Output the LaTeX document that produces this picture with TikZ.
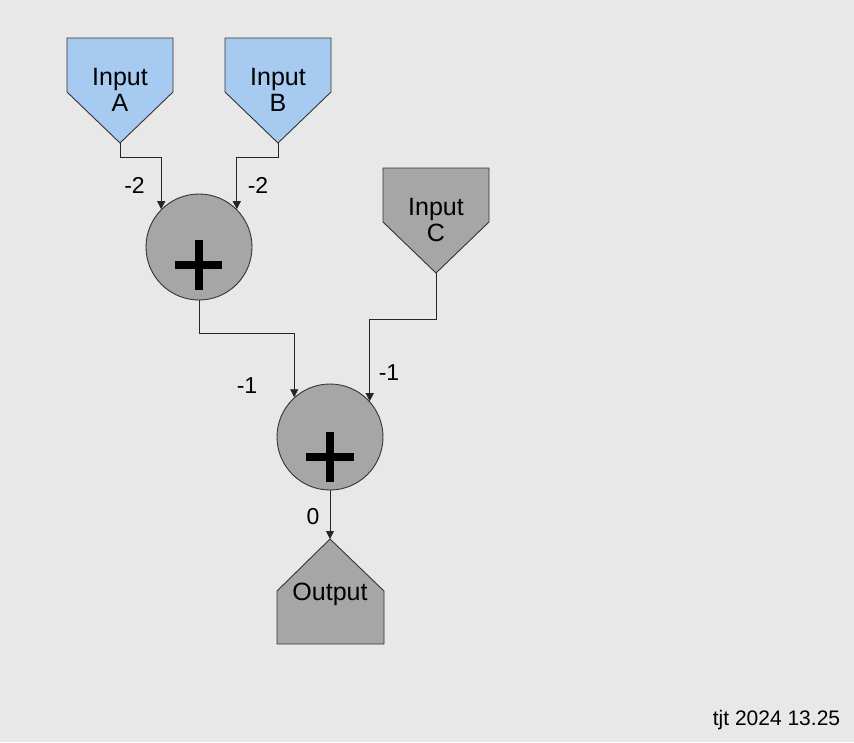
\documentclass[tikz,border=0pt]{standalone}
\usepackage{fontspec}
\setmainfont{Liberation Sans}
\usetikzlibrary{arrows.meta,calc}
\definecolor{bg}{HTML}{E8E8E8}
\definecolor{inblue}{HTML}{A6CAF0}
\definecolor{opgray}{HTML}{A6A6A6}
\begin{document}
\begin{tikzpicture}[x=1pt,y=-1pt,
  wire/.style={line width=0.9pt,draw=black!85},
  arr/.style={wire,-{Triangle[length=8pt,width=8pt]}},
  inbox/.style={draw=black!80,line width=0.9pt,fill=inblue},
  graybox/.style={draw=black!80,line width=0.9pt,fill=opgray},
  sumnode/.style={circle,draw=black!80,line width=0.9pt,fill=opgray,minimum size=106pt,inner sep=0pt},
  plusbar/.style={line width=7.5pt,draw=black},
  nodetext/.style={font=\fontsize{25}{26}\selectfont,align=center,inner sep=0pt},
  wlabel/.style={font=\fontsize{23}{24}\selectfont,inner sep=0pt},
  foot/.style={font=\fontsize{21}{22}\selectfont,inner sep=0pt,anchor=base}]
\fill[bg] (0,0) rectangle (854,742);
\useasboundingbox (0,0) rectangle (854,742);
% Input A
\path[inbox] (67,38) -- (173,38) -- (173,92) -- (120,143) -- (67,92) -- cycle;
\coordinate (Atip) at (120,143);
\node[nodetext] (Atext) at (120,90) {Input\\A};
% Input B
\path[inbox] (225,38) -- (331,38) -- (331,92) -- (278,143) -- (225,92) -- cycle;
\coordinate (Btip) at (278,143);
\node[nodetext] (Btext) at (278,90) {Input\\B};
% Input C
\path[graybox] (383,168) -- (489,168) -- (489,222) -- (436,273) -- (383,222) -- cycle;
\coordinate (Ctip) at (436,273);
\node[nodetext] (Ctext) at (436,220) {Input\\C};
% Output
\path[graybox] (330,539) -- (384,591) -- (384,644) -- (277,644) -- (277,591) -- cycle;
\coordinate (Otip) at (330,539);
\node[nodetext,anchor=base] (Otext) at (330,600) {Output};
% Sum nodes
\node[sumnode] (S1) at (199,247) {};
\node[sumnode] (S2) at (330,437) {};
\draw[plusbar] ($(S1)+(-24,18)$) -- ($(S1)+(23,18)$);
\draw[plusbar] ($(S1)+(0,-7)$) -- ($(S1)+(0,43)$);
\draw[plusbar] ($(S2)+(-24,20)$) -- ($(S2)+(24,20)$);
\draw[plusbar] ($(S2)+(0,-5)$) -- ($(S2)+(0,45)$);
% connectors
\draw[arr] (Atip) -- ++(0,14) -| (S1.135.8);
\draw[arr] (Btip) -- ++(0,14) -| (S1.45.7);
\draw[arr] (S1.south) -- ++(0,33) -| (S2.132.8);
\draw[arr] (Ctip) -- ++(0,46) -| (S2.42.6);
\draw[arr] (S2.south) -- (Otip);
% labels
\node[wlabel] (lA) at (134.5,185) {-2};
\node[wlabel] (lB) at (258,185) {-2};
\node[wlabel] (l1) at (247,385.5) {-1};
\node[wlabel] (lC) at (389,372.5) {-1};
\node[wlabel] (l0) at (313,516.5) {0};
\node[foot] (footer) at (776.5,725) {tjt 2024 13.25};
\end{tikzpicture}
\end{document}
